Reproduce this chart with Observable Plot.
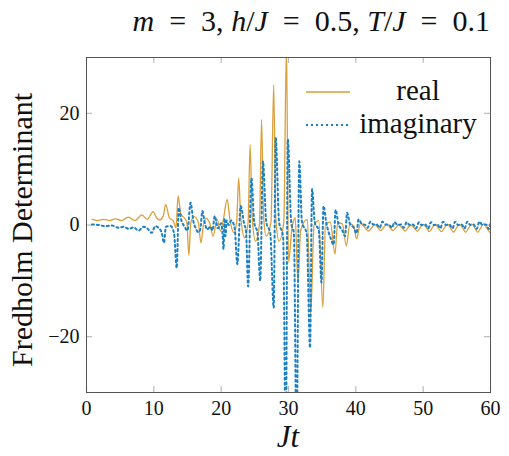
<!DOCTYPE html>
<html><head><meta charset="utf-8">
<script src="https://cdn.jsdelivr.net/npm/d3@7"></script>
<script src="https://cdn.jsdelivr.net/npm/@observablehq/plot@0.6"></script>
<style>
body{margin:0;background:#fff;}
#wrap{position:relative;width:509px;height:456px;}
#overlay{position:absolute;left:0;top:0;pointer-events:none;}
</style>
</head><body>
<div id="wrap"></div>
<script>
const xTicks = [0, 10, 20, 30, 40, 50, 60];
const yTicks = [-20, 0, 20];
const seriesNames = ["real", "imaginary"];

const realT = [0.8,1.6,2.6,3.4,4.3,5.2,6.2,7.2,8.2,9.0,9.9,10.4,10.9,11.4,11.75,12.3,12.9,13.3,13.6,14.0,14.5,14.9,15.2,15.5,16.0,16.6,17.0,17.4,17.8,18.3,18.8,19.4,19.9,20.3,20.9,21.3,21.9,22.3,22.6,22.9,23.5,24.0,24.3,24.6,25.1,25.7,26.0,26.3,26.7,27.4,27.8,28.1,28.6,29.3,29.7,30.0,30.5,31.0,31.4,31.8,32.3,32.8,33.3,33.8,34.5,35.1,35.5,36.2,36.9,37.3,38.0,38.6,39.1,39.7,40.1,40.7,41.3,41.9,42.35,42.8,43.25,43.7,44.15,44.6,45.05,45.5,45.95,46.4,46.85,47.3,47.75,48.2,48.65,49.1,49.55,50.0,50.45,50.9,51.35,51.8,52.25,52.7,53.15,53.6,54.05,54.5,54.95,55.4,55.85,56.3,56.75,57.2,57.65,58.1,58.55,59.0,59.45,59.9,60.0];
const realV = [1.0,0.8,1.0,0.8,1.1,0.8,1.4,0.8,1.8,1.0,2.4,1.3,0.9,1.6,3.7,1.3,0.7,-0.5,5.2,2.0,1.3,0.5,-5.4,0.5,1.5,0.5,-3.2,0.3,1.2,0.3,-2.0,1.0,-1.1,0.8,4.6,1.0,-1.4,0.5,8.4,1.5,-2.3,0.5,14.4,1.5,-2.9,0.3,18.9,1.5,-2.0,0.5,25.1,1.5,-2.9,0.5,32,-6.7,-0.7,1.3,-10.3,-1.1,0.5,1.0,-16,0.0,0.8,-14.8,0.2,0.5,-5.2,0.4,0.2,-3.8,0.2,-0.2,-2.5,0.3,-0.4,-1.1,-0.5,0.1,-0.4,-1.0,-0.4,0.1,-0.4,-1.0,-0.5,0.0,-0.5,-1.1,-0.5,0.0,-0.5,-1.1,-0.5,0.1,-0.4,-1.2,-0.5,0.1,-0.5,-1.2,-0.5,0.1,-0.5,-1.3,-0.5,0.1,-0.5,-1.3,-0.5,0.2,-0.5,-1.3,-0.5,0.2,-0.5,-1.3,-1.2];

const imagT = [0.8,1.8,2.8,3.8,4.8,5.5,6.3,7.0,7.7,8.5,9.0,9.7,10.2,10.7,11.2,11.5,11.8,12.5,13.0,13.4,13.7,14.1,14.5,15.0,15.45,15.9,16.2,16.6,16.9,17.2,17.6,17.9,18.4,18.7,19.05,19.5,20.0,20.2,20.35,20.5,20.65,20.8,21.1,21.5,22.0,22.4,22.9,23.4,23.7,24.0,24.5,24.9,25.4,25.8,26.2,26.7,27.3,27.8,28.1,28.6,29.2,29.6,29.9,30.4,30.8,31.2,31.6,32.0,32.7,33.2,33.5,33.9,34.5,34.9,35.2,35.6,36.3,36.7,37.0,37.4,38.0,38.4,38.7,39.1,39.7,40.1,40.4,40.9,41.4,41.75,42.15,42.6,43.1,43.55,43.95,44.4,44.9,45.35,45.75,46.2,46.7,47.15,47.55,48.0,48.5,48.95,49.35,49.8,50.3,50.75,51.15,51.6,52.1,52.55,52.95,53.4,53.9,54.35,54.75,55.2,55.7,56.15,56.55,57.0,57.5,57.95,58.35,58.8,59.3,59.75,60.0];
const imagV = [0.1,0.0,-0.2,-0.1,-0.5,-0.3,-0.7,-0.4,-1.0,-0.3,-0.6,-1.4,-0.2,-0.5,-1.5,-3.2,-0.3,-0.2,-1.5,-7.7,3.1,0.8,-0.2,-1.0,4.0,0.5,-0.5,-1.3,-0.8,2.5,0.2,-0.8,-0.3,-1.0,1.6,-0.6,0.3,-1.5,-4.3,1.2,-2.0,0.8,0.0,0.8,-0.5,-7.0,3.4,0.3,-1.2,-11.0,8.4,0.5,-1.5,-10.0,11.4,0.5,-1.5,-14.8,15.6,0.5,-2.0,-40,15.3,0.5,-1.5,-40,11.4,0.5,-1.5,-22.0,6.4,0.5,-1.0,-10.3,3.4,0.5,-2.5,-3.5,2.7,0.3,-1.0,-2.0,2.2,0.3,-0.5,-1.5,1.0,0.2,0.0,-0.5,0.6,0.1,0.1,-0.5,0.6,0.1,0.1,-0.5,0.5,0.0,0.1,-0.5,0.5,0.0,0.1,-0.6,0.5,0.0,0.1,-0.6,0.5,0.0,0.1,-0.6,0.6,0.0,0.1,-0.6,0.6,0.0,0.1,-0.6,0.6,0.0,0.1,-0.7,0.6,0.0,0.1,-0.7,0.3];

const orange = "#dba03a";
const blue = "#1c80c4";
const font = "'Liberation Serif', 'DejaVu Serif', serif";

const realData = realT.map((t, i) => ({t, v: realV[i]}));
const imagData = imagT.map((t, i) => ({t, v: imagV[i]}));

const chart = Plot.plot({
  width: 509,
  height: 456,
  marginLeft: 86,
  marginRight: 19,
  marginTop: 57,
  marginBottom: 64,
  style: {fontFamily: font, background: "#fff", color: "#111"},
  x: {domain: [0, 60]},
  y: {domain: [-30, 30]},
  marks: [
    Plot.gridX(xTicks, {stroke: "#bbb", strokeOpacity: 1, strokeWidth: 1.2, insetTop: 329}),
    Plot.gridX(xTicks, {stroke: "#bbb", strokeOpacity: 1, strokeWidth: 1.2, insetBottom: 329}),
    Plot.gridY(yTicks, {stroke: "#bbb", strokeOpacity: 1, strokeWidth: 1.2, insetRight: 398}),
    Plot.gridY(yTicks, {stroke: "#bbb", strokeOpacity: 1, strokeWidth: 1.2, insetLeft: 398}),
    Plot.line(realData, {x: "t", y: "v", stroke: orange, strokeWidth: 1.3, curve: "monotone-x", clip: true}),
    Plot.line(imagData, {x: "t", y: "v", stroke: blue, strokeWidth: 2, strokeDasharray: "2 3", curve: "monotone-x", clip: true}),
    Plot.frame({stroke: "#555", strokeWidth: 1}),
    Plot.axisX(xTicks, {tickSize: 0, tickPadding: 8, fontSize: 20, label: null}),
    Plot.axisY(yTicks, {tickSize: 0, tickPadding: 7, fontSize: 20, label: null})
  ]
});
const wrap = document.getElementById("wrap");
wrap.appendChild(chart);

// title, axis labels and legend overlay
const ov = d3.select(wrap).append("svg").attr("id", "overlay").attr("width", 509).attr("height", 456)
  .style("font-family", font);
const S = "\u00A0";
const title = ov.append("text").attr("x", 490).attr("y", 31).attr("text-anchor", "end").attr("font-size", 30).attr("fill", "#111");
const parts = [["m", true], [S+S+"="+S+S+"3,"+S, false], ["h", true], ["/", false], ["J", true], [S+S+"="+S+S+"0.5,"+S, false], ["T", true], ["/", false], ["J", true], [S+S+"="+S+S+"0.1", false]];
parts.forEach(([s, it]) => title.append("tspan").attr("font-style", it ? "italic" : "normal").text(s));

ov.append("text").attr("transform", "translate(32,230) rotate(-90)").attr("text-anchor", "middle")
  .attr("font-size", 30).attr("fill", "#111").text("Fredholm Determinant");
ov.append("text").attr("x", 288).attr("y", 447).attr("text-anchor", "middle")
  .attr("font-size", 31).attr("font-style", "italic").attr("fill", "#111").text("Jt");

const leg = ov.append("g");
const rows = [{name: seriesNames[0], color: orange, dash: null, w: 1.3, y: 92},
              {name: seriesNames[1], color: blue, dash: "2 3", w: 2, y: 125}];
rows.forEach(r => {
  leg.append("line").attr("x1", 306).attr("x2", 350).attr("y1", r.y).attr("y2", r.y)
    .attr("stroke", r.color).attr("stroke-width", r.w).attr("stroke-dasharray", r.dash);
  leg.append("text").attr("x", 418).attr("y", r.y + 8).attr("text-anchor", "middle")
    .attr("font-size", 29).attr("fill", "#111").text(r.name);
});
</script>
</body></html>
